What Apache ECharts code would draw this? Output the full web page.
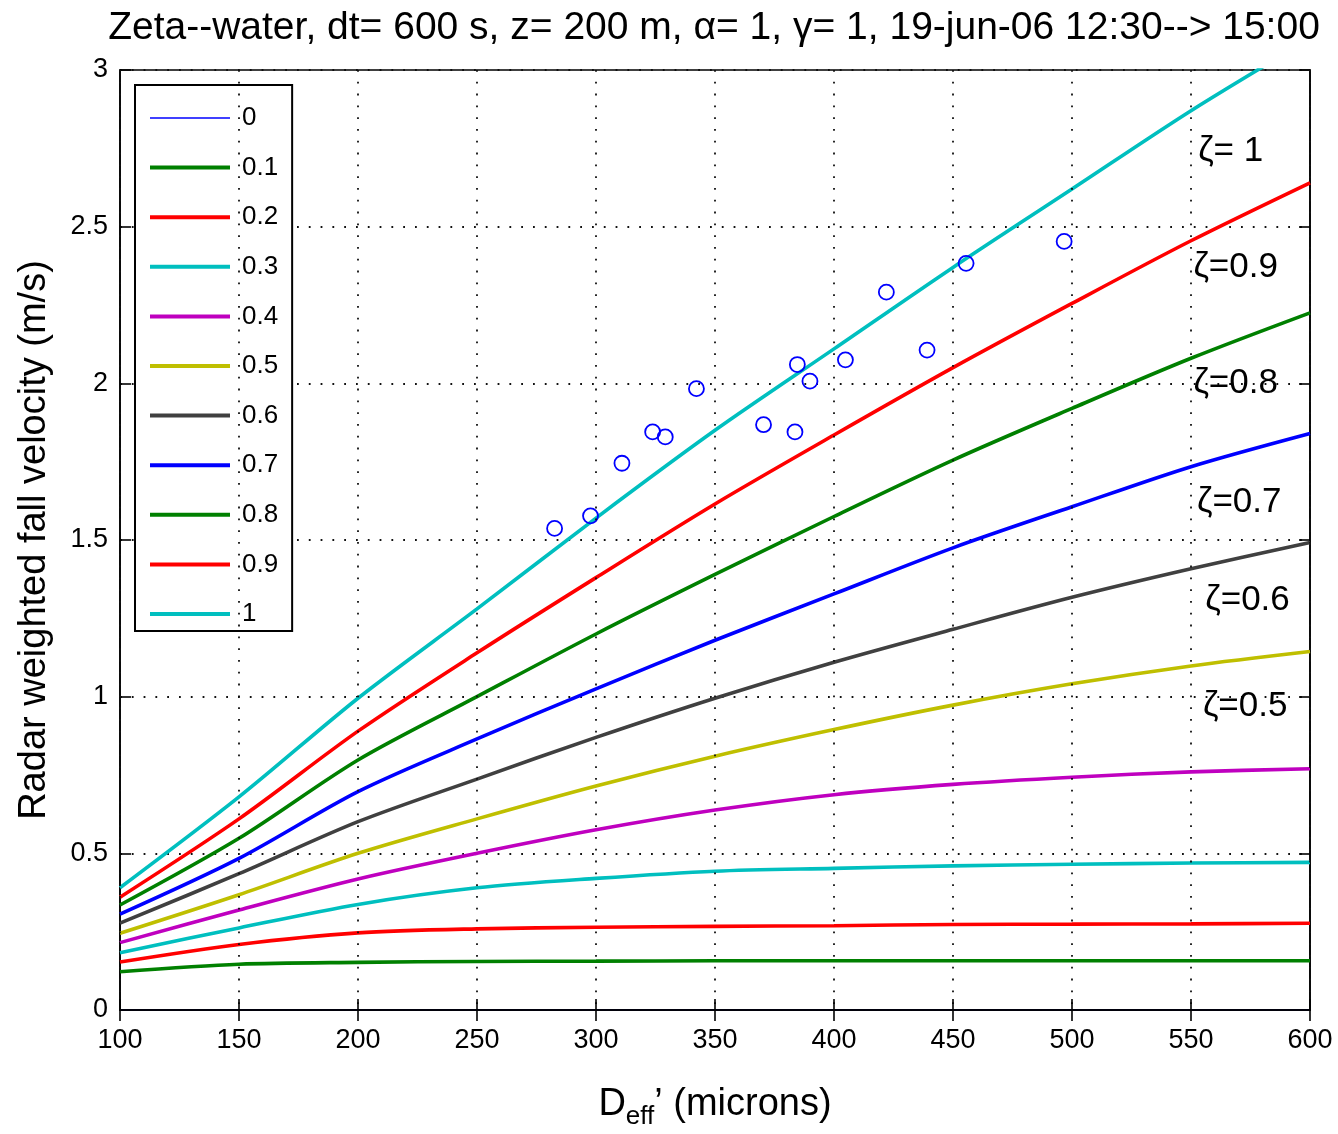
<!DOCTYPE html>
<html>
<head>
<meta charset="utf-8">
<script src="https://cdn.jsdelivr.net/npm/echarts@6/dist/echarts.min.js"></script>
<style>
html,body{margin:0;padding:0;background:#fff;}
#c{width:1338px;height:1134px;}
</style>
</head>
<body>
<div id="c"></div>
<script>
// ---- data ----
const diam = [100, 150, 200, 250, 300, 350, 400, 450, 500, 550, 600];
const zetaNames = ['0', '0.1', '0.2', '0.3', '0.4', '0.5', '0.6', '0.7', '0.8', '0.9', '1'];
const v_0   = [0, 0, 0, 0, 0, 0, 0, 0, 0, 0, 0];
const v_01  = [0.122, 0.146, 0.152, 0.155, 0.156, 0.157, 0.157, 0.157, 0.157, 0.157, 0.157];
const v_02  = [0.153, 0.209, 0.246, 0.259, 0.264, 0.267, 0.269, 0.273, 0.274, 0.275, 0.277];
const v_03  = [0.183, 0.262, 0.337, 0.390, 0.420, 0.443, 0.452, 0.460, 0.465, 0.469, 0.471];
const v_04  = [0.215, 0.319, 0.418, 0.500, 0.575, 0.638, 0.687, 0.720, 0.743, 0.760, 0.770];
const v_05  = [0.245, 0.368, 0.500, 0.610, 0.715, 0.810, 0.895, 0.973, 1.041, 1.098, 1.144];
const v_06  = [0.277, 0.435, 0.601, 0.737, 0.870, 0.995, 1.110, 1.215, 1.317, 1.408, 1.492];
const v_07  = [0.306, 0.484, 0.697, 0.865, 1.025, 1.180, 1.328, 1.475, 1.606, 1.734, 1.840];
const v_08  = [0.335, 0.548, 0.798, 1.000, 1.200, 1.390, 1.575, 1.755, 1.920, 2.080, 2.225];
const v_09  = [0.360, 0.610, 0.890, 1.140, 1.380, 1.615, 1.835, 2.050, 2.255, 2.455, 2.640];
const v_1   = [0.390, 0.680, 0.995, 1.280, 1.570, 1.850, 2.110, 2.370, 2.620, 2.870, 3.100];
const velocities = [v_0, v_01, v_02, v_03, v_04, v_05, v_06, v_07, v_08, v_09, v_1];

const obsD = [282.6, 297.7, 310.9, 323.8, 329.1, 342.2, 370.4, 383.6, 384.6, 389.9, 404.8, 422.0, 439.1, 455.5, 496.7];
const obsV = [1.537, 1.577, 1.745, 1.845, 1.829, 1.983, 1.868, 1.845, 2.060, 2.007, 2.075, 2.291, 2.106, 2.383, 2.453];

const annText = ['\u03B6= 1', '\u03B6=0.9', '\u03B6=0.8', '\u03B6=0.7', '\u03B6=0.6', '\u03B6=0.5'];
const annX = [553, 551, 551, 552.5, 556, 555];
const annY = [2.739, 2.371, 2.001, 1.621, 1.309, 0.970];

const xTicks = [100, 600, 50];
const yTicks = [0, 3, 0.5];
// ---- end data ----

const colors = ['#0000FF', '#008000', '#FF0000', '#00BFBF', '#BF00BF', '#BFBF00', '#404040', '#0000FF', '#008000', '#FF0000', '#00BFBF'];
const FONT = 'Liberation Sans, Arial, sans-serif';

const lineSeries = velocities.map((v, i) => ({
  name: zetaNames[i],
  type: 'line',
  data: diam.map((d, k) => [d, v[k]]),
  symbol: 'none',
  showSymbol: false,
  smooth: 0.3,
  clip: true,
  lineStyle: { color: colors[i], width: i === 0 ? 1.5 : 3.6 },
  itemStyle: { color: colors[i] },
  z: 3
}));

const chart = echarts.init(document.getElementById('c'), null, { renderer: 'canvas' });

const dotted = { color: '#111', width: 1.8, type: [1.8, 10] };

chart.setOption({
  backgroundColor: '#fff',
  animation: false,
  title: {
    text: 'Zeta--water, dt= 600 s, z= 200 m, \u03B1= 1, \u03B3= 1, 19-jun-06 12:30--> 15:00',
    left: 709, textAlign: 'center', top: 4,
    textStyle: { fontFamily: FONT, fontWeight: 'normal', fontSize: 39, color: '#000' }
  },
  grid: { left: 120, right: 28, top: 70, bottom: 124, outerBoundsMode: 'none', containLabel: false,
          show: true, borderColor: '#000', borderWidth: 1.6, backgroundColor: 'transparent' },
  legend: {
    data: zetaNames.map((n, i) => ({ name: n, lineStyle: { width: i === 0 ? 1.5 : 4 } })),
    orient: 'vertical',
    left: 135, top: 85,
    padding: [18, 14, 2, 13],
    itemWidth: 80, itemHeight: 30, itemGap: 19.6,
    borderColor: '#000', borderWidth: 2, backgroundColor: '#fff',
    itemStyle: { opacity: 0 },
    textStyle: { fontFamily: FONT, fontSize: 26, color: '#000', lineHeight: 30, padding: [0, 0, 0, 7] },
    z: 10
  },
  xAxis: [{
    type: 'value', min: xTicks[0], max: xTicks[1], interval: xTicks[2],
    position: 'bottom', z: 10,
    name: '{a|D}{s|eff}{a|\u2019 (microns)}',
    nameLocation: 'middle', nameGap: 70,
    nameTextStyle: {
      rich: {
        a: { fontFamily: FONT, fontSize: 38, color: '#000' },
        s: { fontFamily: FONT, fontSize: 26, color: '#000', verticalAlign: 'bottom', padding: [24, 0, 0, 0] }
      }
    },
    axisLine: { show: true, lineStyle: { color: '#000', width: 1.6 } },
    axisTick: { show: true, inside: true, length: 11, lineStyle: { color: '#000', width: 1.6 } },
    axisLabel: { fontFamily: FONT, fontSize: 27, color: '#000', margin: 17 },
    splitLine: { show: true, lineStyle: dotted }
  }, {
    type: 'value', min: xTicks[0], max: xTicks[1], interval: xTicks[2],
    position: 'top', z: 10,
    axisLine: { show: true, lineStyle: { color: '#000', width: 1.6 } },
    axisTick: { show: true, inside: true, length: 11, lineStyle: { color: '#000', width: 1.6 } },
    axisLabel: { show: false },
    splitLine: { show: false }
  }],
  yAxis: [{
    type: 'value', min: yTicks[0], max: yTicks[1], interval: yTicks[2],
    position: 'left',
    name: 'Radar weighted fall velocity (m/s)',
    nameLocation: 'middle', nameGap: 66,
    nameTextStyle: { fontFamily: FONT, fontSize: 38, color: '#000' },
    axisLine: { show: true, lineStyle: { color: '#000', width: 1.6 } },
    axisTick: { show: true, inside: true, length: 11, lineStyle: { color: '#000', width: 1.6 } },
    axisLabel: { fontFamily: FONT, fontSize: 27, color: '#000', margin: 12 },
    splitLine: { show: true, lineStyle: dotted }
  }, {
    type: 'value', min: yTicks[0], max: yTicks[1], interval: yTicks[2],
    position: 'right',
    axisLine: { show: true, lineStyle: { color: '#000', width: 1.6 } },
    axisTick: { show: true, inside: true, length: 11, lineStyle: { color: '#000', width: 1.6 } },
    axisLabel: { show: false },
    splitLine: { show: false }
  }],
  series: lineSeries.concat([{
    name: 'obs',
    type: 'scatter',
    data: obsD.map((d, k) => [d, obsV[k]]),
    symbol: 'circle', symbolSize: 15,
    itemStyle: { color: 'rgba(0,0,0,0)', borderColor: '#0000FF', borderWidth: 1.8, opacity: 1 },
    z: 5
  }, {
    name: 'ann',
    type: 'scatter',
    data: annX.map((x, k) => ({ value: [x, annY[k]], label: { formatter: annText[k] } })),
    symbolSize: 0,
    clip: false,
    label: { show: true, position: 'right', distance: 0, fontFamily: FONT, fontSize: 35, color: '#000', opacity: 1 },
    itemStyle: { color: 'rgba(0,0,0,0)', opacity: 1 },
    silent: true,
    z: 6
  }])
});
</script>
</body>
</html>
